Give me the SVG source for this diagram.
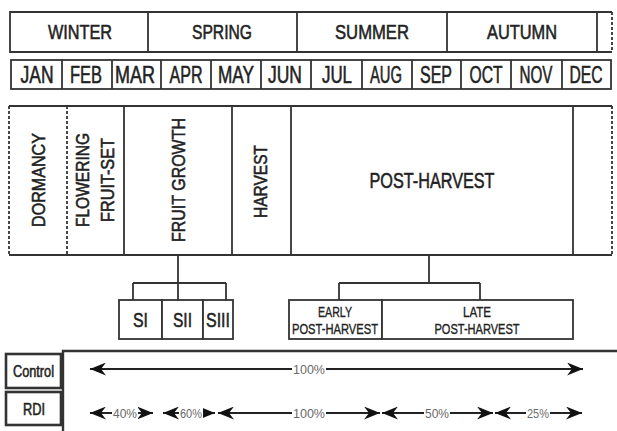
<svg xmlns="http://www.w3.org/2000/svg" width="617" height="431" viewBox="0 0 617 431">
<style>
.ln{stroke:#333;stroke-width:1.8;fill:none}
.bx{stroke:#333;stroke-width:1.8;fill:#fff}
.ds{stroke:#333;stroke-width:1.8;fill:none;stroke-dasharray:3 2}
.t{font-family:"Liberation Sans",Arial,sans-serif;fill:#222;stroke:#222;stroke-width:0.55;text-anchor:middle}
.s{font-size:20px}
.m{font-size:23px}
.p{font-size:18.5px}
.sub{font-size:14.5px;stroke-width:0.35}
.lb{font-size:13.5px;fill:#6a6a6a;stroke:none}
.bg{fill:#fff}
.ar{stroke:#222;stroke-width:2;fill:none;marker-start:url(#ah);marker-end:url(#ah)}
.db{stroke:#333;stroke-width:2.6;fill:#fff}
</style>
<defs>
<marker id="ah" markerUnits="userSpaceOnUse" markerWidth="18" markerHeight="13" refX="16" refY="6.5" orient="auto-start-reverse">
<path d="M0,0 L16,6.5 L0,13 L5,6.5 z" fill="#111"/>
</marker>
</defs>
<rect width="617" height="431" fill="#fff"/>

<g id="seasons">
<path class="ln" d="M612,12 H10 V52 H612"/>
<path class="ds" d="M612,12 V52"/>
<path class="ln" d="M148,12 V52 M297,12 V52 M447,12 V52 M597,12 V52"/>
<text class="t s" x="80" y="39" textLength="64" lengthAdjust="spacingAndGlyphs">WINTER</text>
<text class="t s" x="222" y="39" textLength="60" lengthAdjust="spacingAndGlyphs">SPRING</text>
<text class="t s" x="372" y="39" textLength="74" lengthAdjust="spacingAndGlyphs">SUMMER</text>
<text class="t s" x="522" y="39" textLength="70" lengthAdjust="spacingAndGlyphs">AUTUMN</text>
</g>

<g id="months">
<rect class="bx" x="11" y="60" width="600" height="29"/>
<path class="ln" d="M62,60 V89 M112,60 V89 M161,60 V89 M211,60 V89 M261,60 V89 M311,60 V89 M362,60 V89 M412,60 V89 M461,60 V89 M511,60 V89 M562,60 V89"/>
<text class="t m" x="37" y="83" textLength="33" lengthAdjust="spacingAndGlyphs">JAN</text>
<text class="t m" x="86" y="83" textLength="32" lengthAdjust="spacingAndGlyphs">FEB</text>
<text class="t m" x="135" y="83" textLength="40" lengthAdjust="spacingAndGlyphs">MAR</text>
<text class="t m" x="186" y="83" textLength="33" lengthAdjust="spacingAndGlyphs">APR</text>
<text class="t m" x="236" y="83" textLength="36" lengthAdjust="spacingAndGlyphs">MAY</text>
<text class="t m" x="285" y="83" textLength="34" lengthAdjust="spacingAndGlyphs">JUN</text>
<text class="t m" x="337" y="83" textLength="30" lengthAdjust="spacingAndGlyphs">JUL</text>
<text class="t m" x="386" y="83" textLength="32" lengthAdjust="spacingAndGlyphs">AUG</text>
<text class="t m" x="436" y="83" textLength="32" lengthAdjust="spacingAndGlyphs">SEP</text>
<text class="t m" x="486" y="83" textLength="33" lengthAdjust="spacingAndGlyphs">OCT</text>
<text class="t m" x="536" y="83" textLength="33" lengthAdjust="spacingAndGlyphs">NOV</text>
<text class="t m" x="586" y="83" textLength="33" lengthAdjust="spacingAndGlyphs">DEC</text>
</g>

<g id="phases">
<path class="ln" d="M9,106 H612 M9,255 H612"/>
<path class="ds" d="M9,106 V255 M67,106 V255 M612,106 V255"/>
<path class="ln" d="M124,106 V255 M232,106 V255 M291,106 V255 M573,106 V255"/>
</g>
<g id="dormancy">
<text class="t p" x="45" y="180" transform="rotate(-90 45 180)" textLength="94" lengthAdjust="spacingAndGlyphs">DORMANCY</text>
</g>
<g id="flowering">
<text class="t p" x="89" y="180" transform="rotate(-90 89 180)" textLength="94" lengthAdjust="spacingAndGlyphs">FLOWERING</text>
<text class="t p" x="114" y="180" transform="rotate(-90 114 180)" textLength="84" lengthAdjust="spacingAndGlyphs">FRUIT-SET</text>
</g>
<g id="fruit-growth">
<text class="t p" x="185" y="180" transform="rotate(-90 185 180)" textLength="124" lengthAdjust="spacingAndGlyphs">FRUIT GROWTH</text>
</g>
<g id="harvest">
<text class="t p" x="267" y="181.5" transform="rotate(-90 267 181.5)" textLength="73" lengthAdjust="spacingAndGlyphs">HARVEST</text>
</g>
<g id="post-harvest">
<text class="t" x="432" y="188" font-size="22" textLength="125" lengthAdjust="spacingAndGlyphs">POST-HARVEST</text>
</g>

<g id="connectors">
<path class="ln" d="M178,255 V300 M133,283 H226 M133,283 V300 M226,283 V300"/>
<path class="ln" d="M429,255 V283 M339,283 H480 M339,283 V300 M480,283 V300"/>
</g>

<g id="si">
<rect class="bx" x="119" y="300" width="43" height="39"/>
<text class="t" x="140.5" y="327" font-size="20.5" textLength="15" lengthAdjust="spacingAndGlyphs">SI</text>
</g>
<g id="sii">
<rect class="bx" x="162" y="300" width="41" height="39"/>
<text class="t" x="182.5" y="327" font-size="20.5" textLength="19" lengthAdjust="spacingAndGlyphs">SII</text>
</g>
<g id="siii">
<rect class="bx" x="203" y="300" width="30" height="39"/>
<text class="t" x="218" y="327" font-size="20.5" textLength="24" lengthAdjust="spacingAndGlyphs">SIII</text>
</g>
<g id="early-post-harvest">
<rect class="bx" x="289" y="300" width="93" height="39"/>
<text class="t sub" x="335" y="317" textLength="34" lengthAdjust="spacingAndGlyphs">EARLY</text>
<text class="t sub" x="335" y="334" textLength="86" lengthAdjust="spacingAndGlyphs">POST-HARVEST</text>
</g>
<g id="late-post-harvest">
<rect class="bx" x="382" y="300" width="191" height="39"/>
<text class="t sub" x="477" y="317" textLength="28" lengthAdjust="spacingAndGlyphs">LATE</text>
<text class="t sub" x="477" y="334" textLength="85" lengthAdjust="spacingAndGlyphs">POST-HARVEST</text>
</g>

<g id="frame">
<path d="M63,431 V351 H617" stroke="#333" stroke-width="2.4" fill="none"/>
</g>
<g id="control">
<rect class="db" x="6" y="354" width="55" height="34"/>
<text class="t" x="33.5" y="377" font-size="16.5" textLength="41" lengthAdjust="spacingAndGlyphs">Control</text>
</g>
<g id="rdi">
<rect class="db" x="6" y="392" width="55" height="33"/>
<text class="t" x="34" y="415" font-size="16.5" textLength="22" lengthAdjust="spacingAndGlyphs">RDI</text>
</g>

<g id="arrows">
<line class="ar" x1="90" y1="369" x2="583" y2="369"/>
<rect class="bg" x="292" y="362" width="34" height="14"/>
<text class="t lb" x="309" y="374" textLength="32" lengthAdjust="spacingAndGlyphs">100%</text>
<line class="ar" x1="90" y1="413" x2="153" y2="413"/>
<rect class="bg" x="112" y="406" width="26" height="14"/>
<text class="t lb" x="125" y="418" textLength="24" lengthAdjust="spacingAndGlyphs">40%</text>
<line class="ar" x1="163" y1="413" x2="215" y2="413"/>
<rect class="bg" x="179" y="406" width="24" height="14"/>
<text class="t lb" x="191" y="418" textLength="22" lengthAdjust="spacingAndGlyphs">60%</text>
<line class="ar" x1="218" y1="413" x2="380" y2="413"/>
<rect class="bg" x="292" y="406" width="34" height="14"/>
<text class="t lb" x="309" y="418" textLength="32" lengthAdjust="spacingAndGlyphs">100%</text>
<line class="ar" x1="382" y1="413" x2="493" y2="413"/>
<rect class="bg" x="424" y="406" width="26" height="14"/>
<text class="t lb" x="437" y="418" textLength="24" lengthAdjust="spacingAndGlyphs">50%</text>
<line class="ar" x1="495" y1="413" x2="582" y2="413"/>
<rect class="bg" x="526" y="406" width="24" height="14"/>
<text class="t lb" x="538" y="418" textLength="22" lengthAdjust="spacingAndGlyphs">25%</text>
</g>
</svg>
